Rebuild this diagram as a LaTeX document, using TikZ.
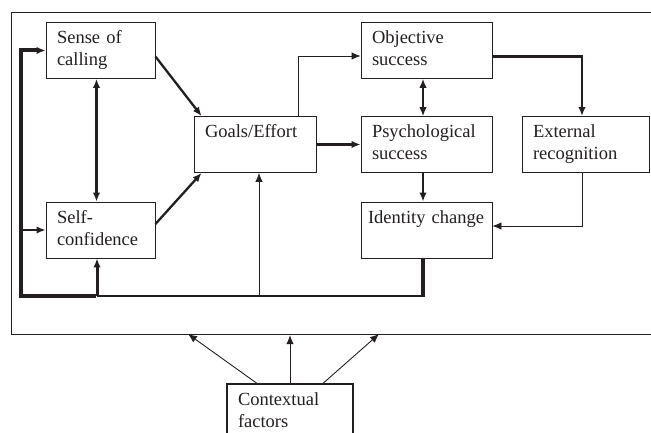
\documentclass[tikz,border=0pt]{standalone}
\usepackage{fontspec}
\setmainfont{Liberation Serif}
\usetikzlibrary{arrows.meta,positioning}
\definecolor{ink}{RGB}{35,31,32}

\begin{document}
\begin{tikzpicture}[x=1pt, y=-1pt, >={Latex[length=9pt,width=7.5pt]}, line join=miter,
  every node/.style={font=\fontsize{18.5}{22}\selectfont, text=ink},
  box/.style={draw=ink, line width=0.9pt, align=left, inner xsep=11pt, inner ysep=0pt,
    minimum height=56pt, execute at begin node=\strut, execute at end node=\strut},
  link/.style={draw=ink, line width=2.3pt, ->},
  thinlink/.style={draw=ink, line width=0.9pt, ->},
  heavy/.style={draw=ink, line width=4pt}]
  \useasboundingbox (0,0) rectangle (651,433);

  % Frame
  \node[draw=ink, line width=1.2pt, anchor=north west, minimum width=680pt, minimum height=322pt] (frame) at (11,12) {};

  % Boxes
  \node[box, text width=87pt] (call) at (100.5,50.5) {Sense of\\calling};
  \node[box, text width=87pt] (conf) at (100.5,230) {Self-\\confidence};
  \node[box, text width=100pt] (goals) at (255,144.5) {Goals/Effort\\};
  \node[box, text width=109pt] (obj) at (426.5,50.5) {Objective\\success};
  \node[box, text width=109pt] (psych) at (426.5,144.5) {Psychological\\success};
  \node[box, text width=117pt, inner xsep=7pt] (ident) at (426.5,230) {Identity change\\};
  \node[box, text width=105pt] (ext) at (585.5,144.5) {External\\recognition};
  \node[box, text width=104pt, line width=1.2pt] (ctx) at (290,412) {Contextual\\factors};

  % Feedback corners
  \coordinate (fbR) at (423,296);
  \coordinate (fbM) at (97,296);
  \coordinate (fbL) at (21,296);
  \coordinate (ctxL) at (188,334);
  \coordinate (ctxR) at (379,334);

  % Arrows
  \draw[link] ([yshift=-6pt]call.east) -- ([xshift=8pt]goals.north west);
  \draw[link] ([yshift=6pt]conf.east) -- ([xshift=8pt]goals.south west);
  \draw[link, <->] ([xshift=-4pt]call.south) -- ([xshift=-4pt]conf.north);
  \draw[thinlink] ([xshift=43pt]goals.north) |- ([yshift=-5.5pt]obj.west);
  \draw[link] (goals.east) -- (psych.west);
  \draw[link, line width=1.3pt, <->] ([xshift=-3.5pt]obj.south) -- ([xshift=-3.5pt]psych.north);
  \draw[link] ([yshift=-6pt]obj.east) -| ([xshift=-3.5pt]ext.north);
  \draw[link] ([xshift=-3.5pt]psych.south) -- ([xshift=-3.5pt]ident.north);
  \draw[thinlink] ([xshift=-3.5pt]ext.south) |- ([yshift=4pt]ident.east);

  % Feedback loop
  \draw[heavy, line width=4.5pt] ([xshift=-3.5pt]ident.south) -- (fbR);
  \draw[link, -] ([xshift=2pt]fbR) -- (fbM);
  \draw[heavy, ->] ([xshift=-1pt]fbM) -- (fbL) |- (call.west);
  \draw[link] (fbL |- conf.west) -- (conf.west);
  \draw[link, line width=3pt] (fbM) -- ([xshift=-3.5pt]conf.south);
  \draw[thinlink] ([xshift=4pt]goals.south |- fbM) -- ([xshift=4pt]goals.south);

  % Context
  \draw[thinlink] ([xshift=-33pt]ctx.north) -- (ctxL);
  \draw[thinlink] (ctx.north) -- (ctx.north |- frame.south);
  \draw[thinlink] ([xshift=33pt]ctx.north) -- (ctxR);
\end{tikzpicture}
\end{document}
